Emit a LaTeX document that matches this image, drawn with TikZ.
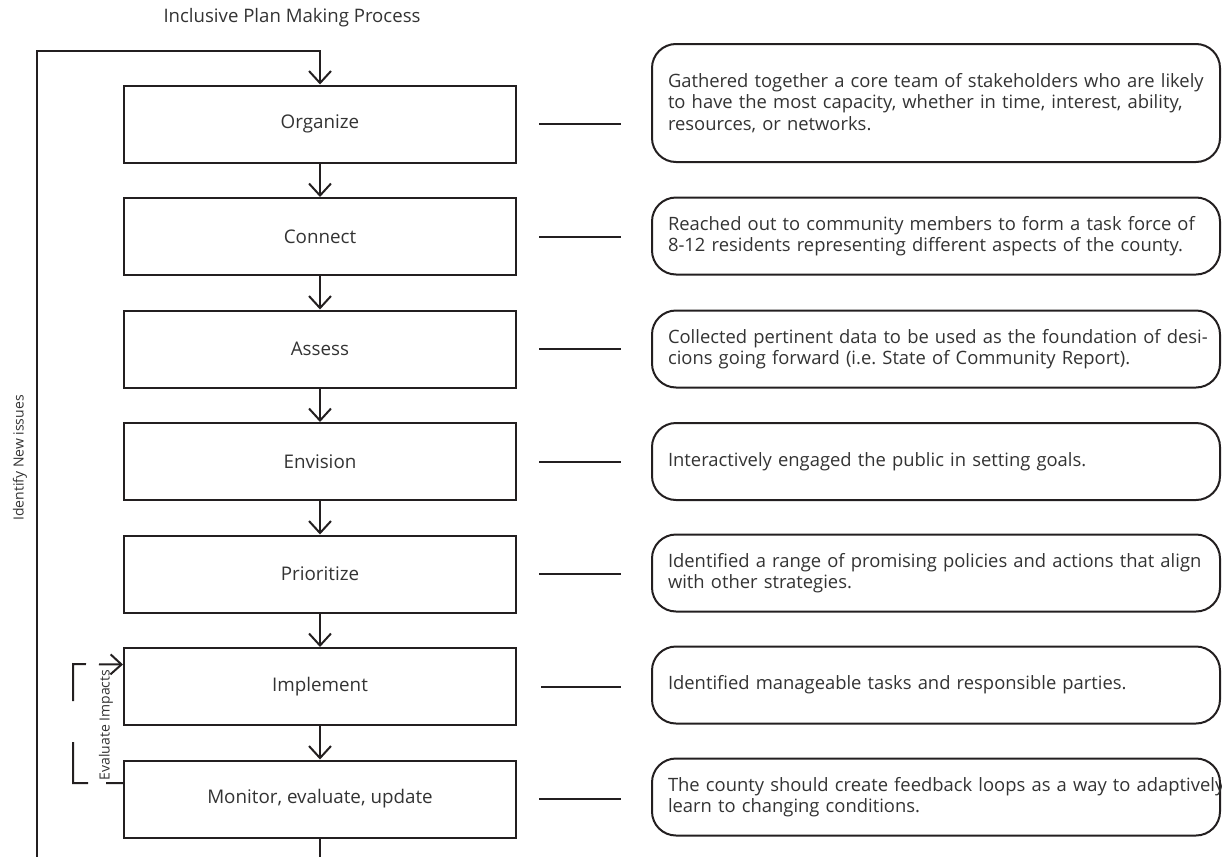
\documentclass[tikz,border=0pt]{standalone}
\usepackage{fontspec}
\setmainfont{Open Sans}
\frenchspacing
\usetikzlibrary{arrows.meta}
\definecolor{ink}{HTML}{231F20}
\definecolor{txt}{HTML}{333333}
\tikzset{
  stage/.style={draw=ink, line width=1pt, minimum width=196pt, minimum height=38.5pt,
    text=txt, font=\fontsize{9.4}{11}\selectfont},
  note/.style={draw=ink, line width=1pt, rounded corners=12pt, text width=268pt,
    inner sep=8pt, align=left, minimum height=38.5pt, text=txt,
    font=\fontsize{9.2}{10.8}\selectfont},
  arr/.style={ink, line width=1pt, -{Straight Barb[length=6pt,width=11pt]}},
  tie/.style={ink, line width=1pt},
  small/.style={text=txt, font=\fontsize{7}{8}\selectfont, rotate=90}
}
\begin{document}
\begin{tikzpicture}[x=0.5pt,y=-0.5pt]
  \useasboundingbox (0,0) rectangle (1222,857);
  \node[text=txt, font=\fontsize{9.3}{11}\selectfont] (title) at (292,18) {Inclusive Plan Making Process};
  % stages
  \node[stage] (org) at (320,124) {Organize};
  \node[stage] (con) at (320,236.5) {Connect};
  \node[stage] (ass) at (320,349) {Assess};
  \node[stage] (env) at (320,461.5) {Envision};
  \node[stage] (pri) at (320,574) {Prioritize};
  \node[stage] (imp) at (320,686.5) {Implement};
  \node[stage] (mon) at (320,799) {Monitor, evaluate, update};
  % notes
  \node[note, minimum height=59pt] (orgnote) at (936,103) {\mbox{Gathered together a core team of stakeholders who are likely}\\\mbox{to have the most capacity, whether in time, interest, ability,}\\resources, or networks.};
  \node[note] (connote) at (936,236) {\mbox{Reached out to community members to form a task force of}\\\mbox{8-12 residents representing different aspects of the county.}};
  \node[note] (assnote) at (936,349) {\mbox{Collected pertinent data to be used as the foundation of desi-}\\\mbox{cions going forward (i.e. State of Community Report).}};
  \node[note] (envnote) at (936,461.5) {Interactively engaged the public in setting goals.};
  \node[note] (prinote) at (936,573) {\mbox{Identified a range of promising policies and actions that align}\\with other strategies.};
  \node[note] (impnote) at (936,685) {Identified manageable tasks and responsible parties.};
  \node[note] (monnote) at (936,797) {\mbox{The county should create feedback loops as a way to adaptively}\\learn to changing conditions.};
  % flow
  \draw[arr] (org.south) -- (con.north);
  \draw[arr] (con.south) -- (ass.north);
  \draw[arr] (ass.south) -- (env.north);
  \draw[arr] (env.south) -- (pri.north);
  \draw[arr] (pri.south) -- (imp.north);
  \draw[arr] (imp.south) -- (mon.north);
  % ties to notes
  \draw[tie] ([xshift=11pt]org.east) -- +(41pt,0);
  \draw[tie] ([xshift=11pt]con.east) -- +(41pt,0);
  \draw[tie] ([xshift=11pt]ass.east) -- +(41pt,0);
  \draw[tie] ([xshift=11pt]env.east) -- +(41pt,0);
  \draw[tie] ([xshift=11pt]pri.east) -- +(41pt,0);
  \draw[tie] ([xshift=12pt]imp.east) -- +(40pt,0);
  \draw[tie] ([xshift=11pt]mon.east) -- +(41pt,0);
  % outer loop
  \coordinate (loopfoot) at (37,857);
  \coordinate (loophead) at (37,51);
  \coordinate (tail) at (320,857);
  \draw[arr] (loopfoot) -- (loophead) -| (org.north);
  \draw[tie] (mon.south) -- (tail);
  \node[small] (newiss) at (20,458) {Identify New issues};
  % inner loop
  \coordinate (evcorner) at (73,664);
  \draw[tie, -{Straight Barb[length=5.5pt,width=10pt]},
    dash pattern=on 8.5pt off 9pt on 28pt off 20.5pt on 25pt off 6.5pt on 14pt]
    ([yshift=8pt]mon.west) -| (evcorner) -- ([yshift=11pt]imp.west);
  \node[small] (evimp) at (106,725) {Evaluate Impacts};
\end{tikzpicture}
\end{document}
